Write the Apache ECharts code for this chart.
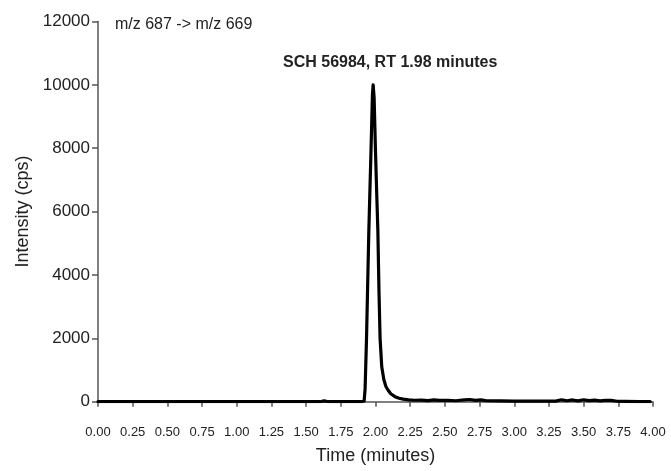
<!DOCTYPE html>
<html>
<head>
<meta charset="utf-8">
<script src="https://cdn.jsdelivr.net/npm/echarts@6/dist/echarts.min.js"></script>
<style>
  html, body { margin: 0; padding: 0; background: #fff; }
  #chart { width: 671px; height: 471px; }
</style>
</head>
<body>
<div id="chart"></div>
<script>
// chromatogram trace, time in minutes / intensity in cps
const times = [
  0.00, 0.50, 1.00, 1.50, 1.60, 1.63, 1.66, 1.80, 1.90, 1.918,
  1.925, 1.935, 1.952, 1.968, 1.978, 1.983, 1.990, 2.000, 2.010, 2.017,
  2.025, 2.033, 2.045, 2.060, 2.075, 2.090, 2.110, 2.140, 2.170, 2.200,
  2.240, 2.280, 2.330, 2.380, 2.420, 2.460, 2.520, 2.580, 2.640, 2.680,
  2.720, 2.760, 2.800, 2.900, 3.000, 3.100, 3.200, 3.300, 3.340, 3.380,
  3.420, 3.460, 3.500, 3.540, 3.580, 3.620, 3.660, 3.700, 3.740, 3.800,
  3.900, 3.980
];
const intensity = [
  0, 0, 0, 0, 0, 25, 0, 0, 0, 20,
  400, 1950, 5400, 8000, 9700, 10000, 9600, 7900, 6400, 5400,
  3500, 2000, 1100, 700, 480, 370, 250, 160, 110, 80,
  60, 45, 50, 35, 60, 40, 45, 30, 55, 70,
  40, 60, 30, 25, 20, 20, 15, 20, 60, 30,
  55, 25, 60, 35, 50, 25, 45, 40, 15, 10,
  5, 0
];
const yTicks = [0, 2000, 4000, 6000, 8000, 10000, 12000];
const xTicks = ['0.00', '0.25', '0.50', '0.75', '1.00', '1.25', '1.50', '1.75', '2.00',
  '2.25', '2.50', '2.75', '3.00', '3.25', '3.50', '3.75', '4.00'];

const transitionLabel = 'm/z 687 -> m/z 669';
const peakLabel = 'SCH 56984, RT 1.98 minutes';

const FONT = '"Liberation Sans", Arial, sans-serif';
const chart = echarts.init(document.getElementById('chart'));

chart.setOption({
  backgroundColor: '#ffffff',
  animation: false,
  textStyle: { fontFamily: FONT },
  grid: { left: 98, right: 18, top: 21.5, bottom: 69.3 },
  xAxis: {
    type: 'value',
    min: 0,
    max: 4,
    interval: 0.25,
    offset: 10,
    name: 'Time (minutes)',
    nameLocation: 'middle',
    nameGap: 35,
    nameTextStyle: { fontSize: 18, color: '#222', fontFamily: FONT },
    axisLine: { lineStyle: { color: '#555', width: 1.5 } },
    axisTick: { length: 5, lineStyle: { color: '#555', width: 1.5 } },
    axisLabel: {
      fontSize: 13,
      color: '#222',
      margin: 14,
      fontFamily: FONT,
      formatter: v => xTicks[Math.round(v / 0.25)]
    },
    splitLine: { show: false }
  },
  yAxis: {
    type: 'value',
    min: yTicks[0],
    max: yTicks[yTicks.length - 1],
    interval: 2000,
    name: 'Intensity (cps)',
    nameLocation: 'middle',
    nameRotate: 90,
    nameGap: 60,
    nameTextStyle: { fontSize: 18, color: '#222', fontFamily: FONT },
    axisLine: { show: true, lineStyle: { color: '#555', width: 1.5 } },
    axisTick: { show: true, length: 6, lineStyle: { color: '#555', width: 1.5 } },
    axisLabel: {
      fontSize: 17,
      color: '#222',
      margin: 8,
      fontFamily: FONT,
      formatter: v => String(v)
    },
    splitLine: { show: false }
  },
  graphic: [
    {
      type: 'text',
      left: 115,
      top: 17,
      style: { text: transitionLabel, font: '16px ' + FONT, fill: '#222' }
    },
    {
      type: 'text',
      left: 283,
      top: 55,
      style: { text: peakLabel, font: 'bold 16px ' + FONT, fill: '#222' }
    }
  ],
  series: [
    {
      type: 'line',
      data: times.map((t, i) => [t, intensity[i]]),
      showSymbol: false,
      smooth: false,
      lineStyle: { color: '#000', width: 3.2, join: 'round', cap: 'round' },
      z: 3
    }
  ]
});
</script>
</body>
</html>
